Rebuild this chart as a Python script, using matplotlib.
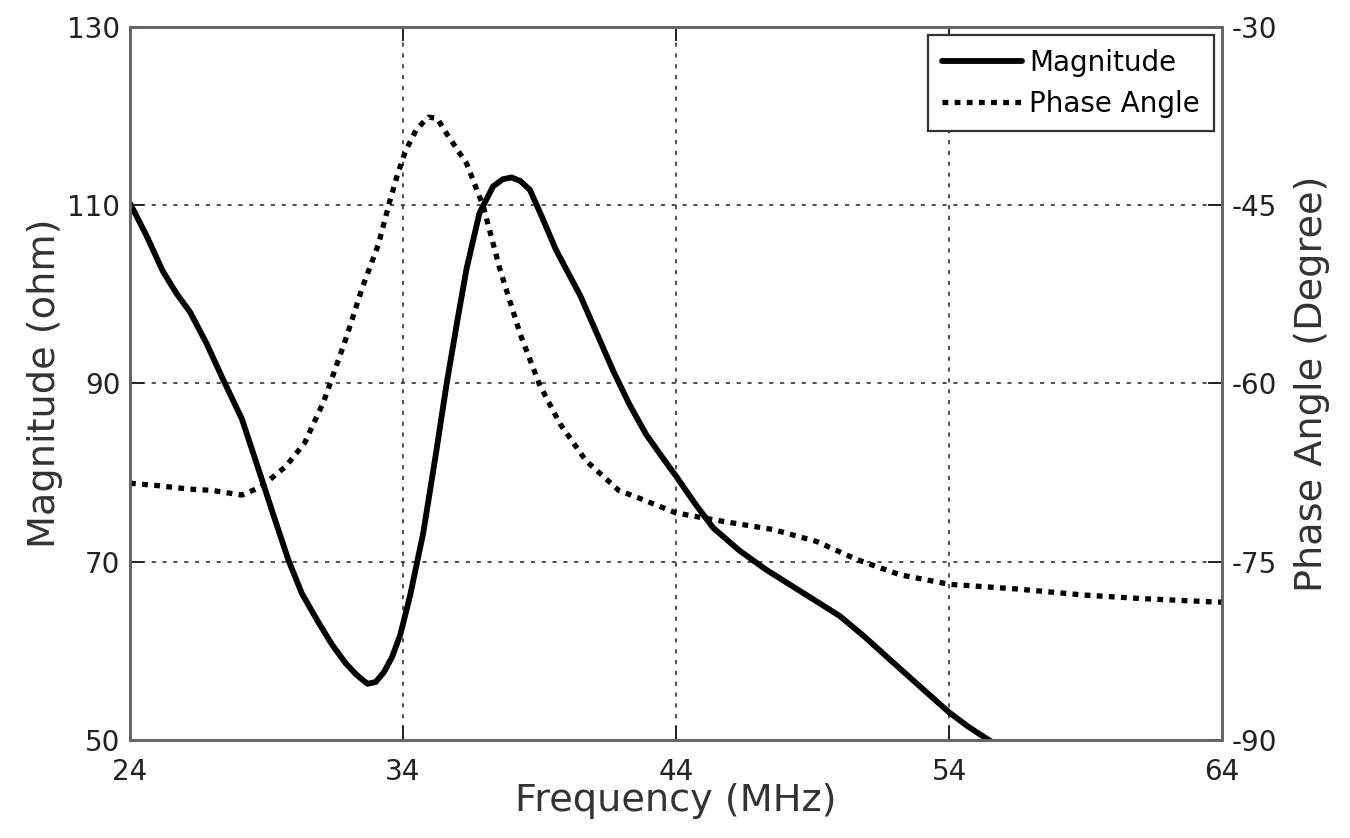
import matplotlib
matplotlib.use("Agg")
import matplotlib.pyplot as plt

# Datos (frecuencia en MHz)
frec_mag = [24, 24.6, 25.2, 25.7, 26.2, 26.8, 27.4, 28.1, 28.8, 29.3, 29.8,
            30.3, 30.9, 31.4, 31.9, 32.3, 32.7, 33.0, 33.3, 33.6, 33.9, 34.26,
            34.74, 35.2, 35.6, 36.0, 36.33, 36.8, 37.3, 37.65, 37.98, 38.3,
            38.65, 39.1, 39.6, 40.5, 41.1, 41.7, 42.3, 42.9, 43.5, 44.0, 44.7,
            45.36, 46.3, 47.3, 48.6, 50.0, 50.9, 51.84, 52.9, 54.0, 54.7, 55.4,
            56.0]
magnitud = [110.2, 106.6, 102.6, 100.1, 98.0, 94.5, 90.5, 86.0, 79.5, 74.8,
            70.2, 66.4, 63.2, 60.7, 58.6, 57.3, 56.3, 56.5, 57.6, 59.3, 61.8,
            66.2, 73.2, 82.0, 90.0, 97.2, 102.9, 109.1, 112.1, 112.9, 113.1,
            112.7, 111.7, 108.6, 105.0, 99.8, 95.6, 91.4, 87.6, 84.3, 81.7,
            79.6, 76.5, 73.8, 71.3, 69.1, 66.6, 63.9, 61.6, 59.0, 56.1, 53.1,
            51.5, 50.1, 49.0]

frec_fase = [24, 25, 26.2, 27.0, 28.1, 28.8, 29.7, 30.4, 31.1, 31.9, 32.5,
             33.1, 33.5, 33.8, 34.1, 34.5, 34.93, 35.25, 35.6, 36.33, 36.94,
             37.55, 38.3, 39.0, 39.75, 40.7, 41.9, 42.7, 44.0, 45.7, 47.56,
             49.15, 50.6, 52.2, 54.0, 56.5, 58.9, 61.0, 63.8, 64]
fase = [-68.4, -68.6, -68.9, -69.0, -69.4, -68.7, -67.0, -65.0, -61.5, -56.3,
        -52.0, -48.3, -44.8, -42.4, -40.4, -38.6, -37.6, -37.7, -39.0, -41.5,
        -45.1, -50.4, -55.9, -60.1, -63.4, -66.5, -69.0, -69.7, -70.9, -71.6,
        -72.3, -73.3, -74.8, -76.1, -76.9, -77.3, -77.8, -78.1, -78.4, -78.4]

ticks_x = [24, 34, 44, 54, 64]
ticks_mag = [50, 70, 90, 110, 130]
ticks_fase = [-90, -75, -60, -45, -30]

plt.rcParams['font.family'] = ['DejaVu Sans']
plt.rcParams['axes.unicode_minus'] = False

fig = plt.figure(figsize=(13.5, 8.38), dpi=100)
ax = fig.add_axes([0.0963, 0.117, 0.8089, 0.851])
ax2 = ax.twinx()

# Curva de magnitud (eje izquierdo)
l1, = ax.plot(frec_mag, magnitud, color='black', linewidth=4.2,
              solid_joinstyle='round', solid_capstyle='round', label='Magnitude')
# Curva de fase (eje derecho)
l2, = ax2.plot(frec_fase, fase, color='black', linewidth=3.8,
               linestyle=(0, (1.1, 1.2)), label='Phase Angle')

ax.set_xlim(24, 64)
ax.set_ylim(50, 130)
ax2.set_ylim(-90, -30)
ax.set_xticks(ticks_x)
ax.set_yticks(ticks_mag)
ax2.set_yticks(ticks_fase)

ax.grid(True, color='#333333', linestyle=(0, (2.5, 4)), linewidth=1.2)

for a in (ax, ax2):
    for s in a.spines.values():
        s.set_color('#666666')
        s.set_linewidth(2.0)
ax.tick_params(axis='y', direction='in', length=10, width=1.4, labelsize=20,
               colors='#222222', pad=7)
ax.tick_params(axis='x', direction='in', length=10, width=1.4, labelsize=20,
               top=True, colors='#222222', pad=13)
ax2.tick_params(direction='in', length=10, width=1.4, labelsize=20,
                colors='#222222', pad=7)

ax.set_xlabel('Frequency (MHz)', fontsize=27.5, color='#333333', labelpad=-2)
ax.set_ylabel('Magnitude (ohm)', fontsize=27.5, color='#333333', labelpad=3)
ax2.set_ylabel('Phase Angle (Degree)', fontsize=27.5, color='#333333', labelpad=12)

leg = ax2.legend(handles=[l1, l2], loc='upper right', fontsize=20,
                 fancybox=False, framealpha=1, edgecolor='#333333',
                 handlelength=2.9, handletextpad=0.25, borderpad=0.5,
                 labelspacing=0.45, borderaxespad=0.3)
leg.get_frame().set_linewidth(1.6)

fig.savefig('out.png', dpi=100)
